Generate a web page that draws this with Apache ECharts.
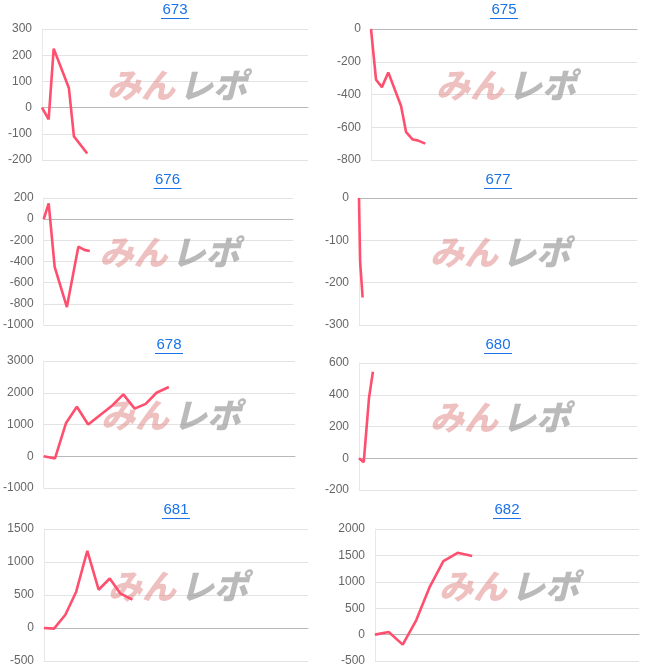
<!DOCTYPE html>
<html><head><meta charset="utf-8">
<script src="https://cdn.jsdelivr.net/npm/echarts@6/dist/echarts.min.js"></script>
<style>html,body{margin:0;padding:0;background:#fff}#c{width:646px;height:669px}</style>
</head><body><div id="c"></div>
<script>
// chart titles
const titles = ['673','675','676','677','678','680','681','682'];
// x positions (percent of plot width) and values per chart
const x673 = [0,2.5,4.4,10.1,12,17];
const y673 = [0,-45,225,75,-110,-175];
const x675 = [0,1.9,4.1,6.5,11.3,13.2,15.7,17.5,20.4];
const y675 = [0,-310,-355,-265,-470,-630,-675,-680,-700];
const x676 = [0,2,4.4,9.3,13.9,16.3,18.5];
const y676 = [0,150,-450,-830,-260,-290,-300];
const x677 = [0,0.4,1.3];
const y677 = [0,-150,-235];
const x678 = [0,4.5,8.9,13.2,17.7,22.5,27.3,31.7,36.2,40.6,44.9,49.8];
const y678 = [0,-70,1050,1560,1000,1300,1600,1950,1500,1650,2000,2180];
const x680 = [0,1.7,3.6,5.0];
const y680 = [0,-25,380,545];
const x681 = [0,3.8,8.1,12.2,16.4,20.7,24.9,29,33.5];
const y681 = [0,-10,200,550,1170,580,750,520,430];
const x682 = [0,5.2,10.5,15.6,20.7,25.9,31.3,36.8];
const y682 = [0,50,-190,270,900,1390,1550,1490];
// y axis ranges [min,max,interval]
const yMin = [-200,-800,-1000,-300,-1000,-200,-500,-500];
const yMax = [300,0,200,0,3000,600,1500,2000];
const yInt = [100,200,200,100,1000,200,500,500];

const xs=[x673,x675,x676,x677,x678,x680,x681,x682];
const ys=[y673,y675,y676,y677,y678,y680,y681,y682];
// layout boxes [left, right, top, bottom] in px
const boxes=[[42,308,29,160],[371,637,29,160],[42,293,198,325],[359,637,198,325],
             [43,295,361,488],[359,637,363,490],[44,308,529,661],[375,639,529,661]];
const titleY=[10,10,180,180,345,345,510,510];
const grid=[],xAxis=[],yAxis=[],series=[],graphic=[];
boxes.forEach((b,i)=>{
  grid.push({left:b[0],top:b[2],width:b[1]-b[0],height:b[3]-b[2]});
  xAxis.push({type:'value',gridIndex:i,min:0,max:100,axisLabel:{show:false},axisTick:{show:false},
    splitLine:{show:false},axisLine:{show:true,onZero:true,lineStyle:{color:'#b8b8b8',width:1}}});
  yAxis.push({type:'value',gridIndex:i,min:yMin[i],max:yMax[i],interval:yInt[i],
    axisLabel:{color:'#666',fontSize:12,fontFamily:'Arial, Liberation Sans',margin:10,formatter:v=>String(v)},
    axisTick:{show:false},axisLine:{show:true,lineStyle:{color:'#e8e8e8'}},
    splitLine:{lineStyle:{color:'#e3e3e3'}}});
  series.push({type:'line',xAxisIndex:i,yAxisIndex:i,symbol:'none',z:5,
    lineStyle:{color:'#ff4f6e',width:2.6},data:xs[i].map((x,k)=>[x,ys[i][k]])});
  const cx=(b[0]+b[1])/2;
  graphic.push({type:'text',x:cx,y:titleY[i],style:{text:titles[i],fill:'#1a73e8',
    font:'15px Arial, Liberation Sans',textAlign:'center',textVerticalAlign:'middle'}});
  graphic.push({type:'rect',shape:{x:cx-14,y:titleY[i]+8,width:28,height:1},style:{fill:'#1a73e8'}});
  const wx=cx+10, wy=(b[2]+b[3])/2-8;
  graphic.push({type:'text',x:wx-78,y:wy-18,z:1,style:{text:'みん',fill:'rgba(225,140,140,0.55)',
    font:'italic 900 34px "Noto Sans CJK JP"'}});
  graphic.push({type:'text',x:wx-6,y:wy-18,z:1,style:{text:'レポ',fill:'rgba(140,140,140,0.6)',
    font:'italic 900 34px "Noto Sans CJK JP"'}});
});
const ch=echarts.init(document.getElementById('c'));
ch.setOption({animation:false,grid,xAxis,yAxis,series,graphic});
</script></body></html>
